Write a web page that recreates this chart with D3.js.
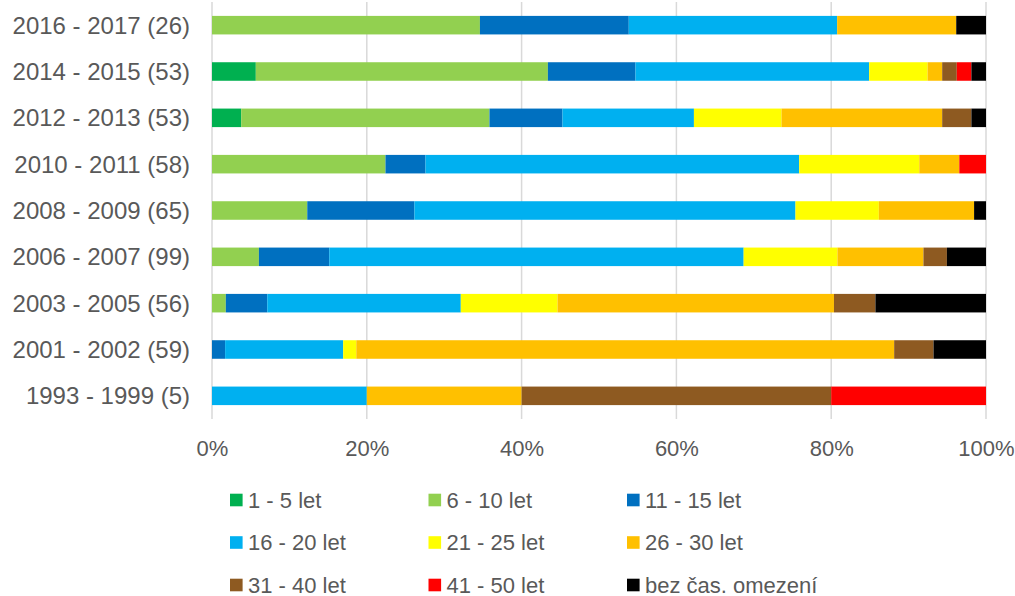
<!DOCTYPE html>
<html>
<head>
<meta charset="utf-8">
<script src="https://cdn.jsdelivr.net/npm/d3@7"></script>
<style>
  body { margin: 0; background: #fff; }
  svg text { font-family: "Liberation Sans", Arial, sans-serif; fill: #595959; }
</style>
</head>
<body>
<svg id="chart" width="1015" height="596"></svg>
<script>
// categories, top to bottom (number of cases in brackets)
const categories = ["2016 - 2017 (26)", "2014 - 2015 (53)", "2012 - 2013 (53)", "2010 - 2011 (58)",
  "2008 - 2009 (65)", "2006 - 2007 (99)", "2003 - 2005 (56)", "2001 - 2002 (59)", "1993 - 1999 (5)"];

const seriesNames = ["1 - 5 let", "6 - 10 let", "11 - 15 let", "16 - 20 let", "21 - 25 let",
  "26 - 30 let", "31 - 40 let", "41 - 50 let", "bez čas. omezení"];
const seriesColors = ["#00b050", "#92d050", "#0070c0", "#00b0f0", "#ffff00",
  "#ffc000", "#8e5a21", "#ff0000", "#000000"];

// counts per series, same order as categories
const s1_5 = [0, 3, 2, 0, 0, 0, 0, 0, 0];
const s6_10 = [9, 20, 17, 13, 8, 6, 1, 0, 0];
const s11_15 = [5, 6, 5, 3, 9, 9, 3, 1, 0];
const s16_20 = [7, 16, 9, 28, 32, 53, 14, 9, 1];
const s21_25 = [0, 4, 6, 9, 7, 12, 7, 1, 0];
const s26_30 = [4, 1, 11, 3, 8, 11, 20, 41, 1];
const s31_40 = [0, 1, 2, 0, 0, 3, 3, 3, 2];
const s41_50 = [0, 1, 0, 2, 0, 0, 0, 0, 1];
const sBez = [1, 1, 1, 0, 1, 5, 8, 4, 0];

const tickValues = [0, 0.2, 0.4, 0.6, 0.8, 1];

const seriesValues = [s1_5, s6_10, s11_15, s16_20, s21_25, s26_30, s31_40, s41_50, sBez];

// rows for d3.stack
let rows = categories.map((c, i) => {
  let r = {cat: c};
  seriesNames.forEach((s, k) => r[s] = seriesValues[k][i]);
  return r;
});

const stack = d3.stack().keys(seriesNames).offset(d3.stackOffsetExpand);
const stacked = stack(rows);

const svg = d3.select('#chart');

const x = d3.scaleLinear().domain([0, 1]).range([212, 986]);
const y = d3.scaleBand().domain(categories).range([2, 419]).paddingInner(0.6).paddingOuter(0.3);

// gridlines
svg.append('g')
  .selectAll('line')
  .data(tickValues)
  .enter()
  .append('line')
  .attr('x1', d => x(d))
  .attr('x2', d => x(d))
  .attr('y1', 2)
  .attr('y2', 419)
  .attr('stroke', '#d9d9d9')
  .attr('stroke-width', 1.5);

// bars
svg.append('g')
  .selectAll('g')
  .data(stacked)
  .enter()
  .append('g')
  .attr('fill', (d, i) => seriesColors[i])
  .selectAll('rect')
  .data(d => d)
  .enter()
  .append('rect')
  .attr('x', d => x(d[0]))
  .attr('width', d => x(d[1]) - x(d[0]))
  .attr('y', d => y(d.data.cat))
  .attr('height', y.bandwidth());

// x axis labels
const xAxis = d3.axisBottom(x).tickValues(tickValues).tickFormat(d3.format('.0%')).tickSize(0).tickPadding(0);
const gx = svg.append('g').attr('transform', 'translate(0,440)').call(xAxis);
gx.select('.domain').remove();
gx.selectAll('text').attr('dy', '0.71em').style('font-size', '22px').attr('fill', '#595959');

// category labels
const yAxis = d3.axisLeft(y).tickSize(0).tickPadding(0);
const gy = svg.append('g').attr('transform', 'translate(190,0)').call(yAxis);
gy.select('.domain').remove();
gy.selectAll('text').attr('dy', '0.36em').style('font-size', '24px').attr('fill', '#595959');

// legend, three columns
const legend = svg.append('g')
  .selectAll('g')
  .data(seriesNames)
  .enter()
  .append('g')
  .attr('transform', (d, i) => 'translate(' + (230 + (i % 3) * 198.5) + ',' + (500 + Math.floor(i / 3) * 42.5) + ')');

legend.append('rect')
  .attr('x', 0)
  .attr('y', -6.3)
  .attr('width', 12.6)
  .attr('height', 12.6)
  .attr('fill', (d, i) => seriesColors[i]);

legend.append('text')
  .attr('x', 18)
  .attr('y', 7.5)
  .style('font-size', '22px')
  .text(d => d);
</script>
</body>
</html>
